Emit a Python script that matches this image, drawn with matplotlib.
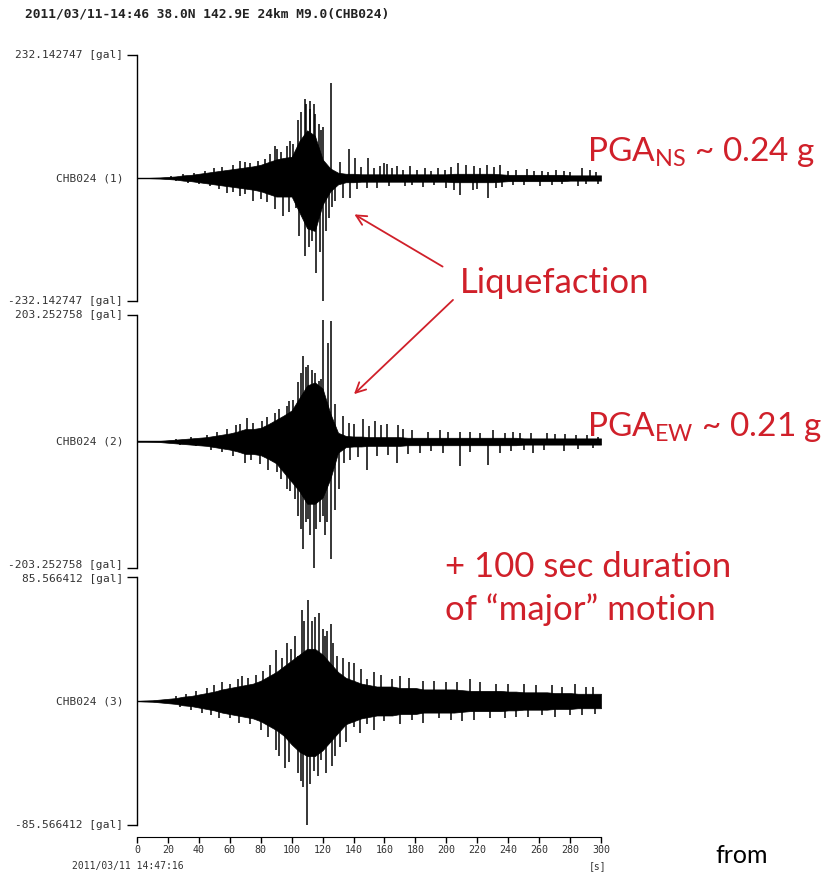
import numpy as np
import matplotlib
matplotlib.use("Agg")
import matplotlib.pyplot as plt

# --- data (acceleration in gal, time in s) ---
T_ENV = list(range(0, 301, 5))

# NS component: core envelope + individual peaks
NS_UP = [0, 0, 0.5, 1, 2, 3, 5, 6, 8, 10, 12, 14, 16, 18, 20, 22, 25, 30, 35, 38, 40,
         70, 90, 80, 35, 18, 10, 8, 8, 7, 7, 7, 7, 7, 7, 7, 7, 7, 7, 7, 7,
         8, 8, 8, 8, 8, 8, 7, 6, 6, 6, 6, 6, 6, 6, 6, 5, 5, 5, 5, 5]
NS_LO = [0, 0, -0.5, -1, -2, -3, -5, -6, -8, -10, -12, -14, -16, -18, -20, -22, -25, -30, -35, -35, -35,
         -65, -95, -100, -50, -25, -12, -8, -8, -7, -7, -7, -7, -7, -7, -7, -7, -7, -7, -7, -7,
         -8, -8, -8, -8, -8, -8, -7, -6, -6, -6, -6, -6, -6, -6, -6, -5, -5, -5, -5, -5]
NS_SPK_UP_T = [66.6, 73, 82.7, 89, 90.3, 96.7, 101, 108.6, 111.8, 114.4, 117.9, 120.2, 125.4,
               137, 141, 149.3, 160, 161.6, 168, 176.5, 194.6, 207.5, 213, 226, 234.6, 252, 271,
               287.7, 293,
               22, 30, 37, 44, 50, 55, 62, 70, 78, 86, 93, 99, 104, 106, 109, 112, 115, 119,
               131, 145, 153, 157, 165, 172, 181, 186, 190, 199, 203, 218, 222, 231, 240, 245,
               257, 262, 266, 276, 280, 297]
NS_SPK_UP = [32, 29, 36, 60, 55, 60, 64, 149, 145, 140, 102, 96, 180,
             55, 38, 38, 28, 27, 23, 22, 19, 28, 25, 25, 25, 17, 15, 19, 15,
             4, 7, 10, 13, 18, 20, 25, 30, 33, 45, 50, 70, 110, 125, 140, 130, 120, 90,
             30, 20, 18, 22, 18, 16, 15, 18, 14, 16, 20, 22, 18, 20, 14, 15,
             13, 14, 12, 13, 12, 12]
NS_SPK_DN_T = [58, 66.6, 75, 89, 94.5, 103, 108.6, 113, 116, 120, 124.3, 128, 133, 138,
               148.5, 173, 209, 217, 227, 236, 260.5, 285,
               25, 33, 40, 47, 53, 62, 70, 80, 84, 98, 105, 111, 118, 122, 126, 142, 155,
               163, 178, 185, 192, 200, 205, 220, 232, 243, 250, 268, 275, 290, 298]
NS_SPK_DN = [-28, -34, -43, -59, -72, -56, -147, -119, -179, -232, -75, -43, -37, -37,
             -19, -15, -32, -23, -38, -17, -15, -15,
             -5, -9, -12, -16, -20, -27, -30, -40, -45, -65, -110, -130, -140, -100, -55, -20, -18,
             -16, -14, -17, -14, -18, -22, -20, -18, -14, -13, -13, -12, -12, -11]

# EW component
EW_UP = [0, 0, 0.5, 1, 2, 3, 4, 5, 6, 7, 9, 11, 13, 16, 20, 20, 22, 28, 35, 42, 50,
         70, 90, 95, 85, 45, 14, 9, 8, 8, 7, 7, 7, 7, 7, 6, 6, 6, 6, 6, 6,
         6, 6, 6, 6, 6, 6, 6, 6, 6, 5, 5, 5, 5, 5, 5, 5, 5, 5, 5, 5]
EW_LO = [0, 0, -0.5, -1, -2, -3, -4, -5, -6, -7, -9, -11, -13, -16, -20, -20, -22, -28, -35, -50, -65,
         -80, -100, -100, -90, -60, -18, -9, -8, -8, -7, -7, -7, -7, -7, -6, -6, -6, -6, -6, -6,
         -6, -6, -6, -6, -6, -6, -6, -6, -6, -5, -5, -5, -5, -5, -5, -5, -5, -5, -5, -5]
EW_SPK_UP_T = [66.6, 71, 80.6, 89, 96.8, 101, 107.5, 110.6, 115, 117.5, 120, 123.6, 125.4,
               133, 137, 146, 154, 161.4, 168.7, 196, 209, 230, 247.6, 264.8, 284, 298,
               25, 35, 45, 52, 58, 64, 75, 84, 92, 98, 104, 106, 109, 113, 119, 128, 140,
               150, 158, 172, 178, 188, 201, 215, 222, 238, 243, 255, 270, 277, 291]
EW_SPK_UP = [28, 38, 33, 46, 57, 67, 137, 123, 110, 97, 195, 158, 193,
             41, 30, 36, 33, 28, 26, 18, 16, 18, 13, 13, 11, 8,
             4, 7, 11, 15, 20, 26, 30, 40, 52, 65, 95, 110, 120, 115, 100, 60, 28,
             25, 27, 20, 18, 16, 15, 16, 14, 14, 15, 13, 12, 12, 10]
EW_SPK_DN_T = [70, 79.5, 90.3, 96.8, 102, 107.5, 110.6, 114.6, 118, 121.5, 125.4, 130.8,
               137.7, 148.5, 167.9, 183, 209, 227, 256, 276,
               28, 38, 48, 55, 62, 74, 85, 93, 99, 104, 106, 109, 112, 116, 120, 123, 128,
               134, 143, 155, 162, 175, 190, 198, 215, 235, 242, 250, 263, 285, 295]
EW_SPK_DN = [-34, -36, -49, -76, -92, -172, -124, -203, -129, -150, -188, -76,
             -29, -46, -34, -19, -40, -37, -19, -16,
             -5, -8, -13, -17, -24, -30, -45, -60, -80, -120, -140, -130, -150, -140, -120, -130, -110,
             -35, -25, -24, -22, -20, -16, -18, -17, -18, -15, -14, -14, -12, -10]

# UD component
UD_UP = [0, 0.3, 0.5, 1, 1.5, 2, 3, 3.5, 4.5, 5.5, 6.5, 8, 9, 10, 11, 12, 14, 17, 20, 24, 28,
         32, 36, 36, 32, 26, 20, 16, 14, 12, 11, 10, 10, 10, 9, 9, 9, 8, 8, 8, 8,
         8, 7.5, 7, 7, 7, 7, 7, 6.5, 6.5, 6, 6, 6, 6, 5.5, 5.5, 5.5, 5, 5, 5, 5]
UD_LO = [0, -0.3, -0.5, -1, -1.5, -2, -3, -3.5, -4.5, -5.5, -6.5, -8, -9, -10, -11, -12, -14, -17, -20, -24, -30,
         -35, -38, -38, -34, -28, -22, -16, -14, -12, -11, -10, -10, -10, -9, -9, -9, -8, -8, -8, -8,
         -8, -7.5, -7, -7, -7, -7, -7, -6.5, -6.5, -6, -6, -6, -6, -5.5, -5.5, -5.5, -5, -5, -5, -5]
UD_SPK_UP_T = [60, 72, 81.6, 90, 99.3, 104, 107, 110.3, 113, 117.9, 121.5, 125.4, 129, 140,
               148.5, 164.6, 185, 200, 215, 232, 250, 268, 283, 295,
               25, 32, 38, 45, 50, 55, 65, 68, 77, 86, 94, 97, 102, 108, 115, 120, 123, 127,
               133, 137, 145, 153, 158, 170, 176, 192, 207, 222, 240, 258, 275, 290]
UD_SPK_UP = [12, 16, 21, 35, 36, 31, 63, 70, 55, 61, 45, 53, 31, 26,
             15, 15, 14, 13, 15, 12, 12, 11, 12, 10,
             3.5, 5, 7, 9, 11, 13, 15, 17, 18, 25, 30, 40, 45, 55, 58, 50, 48, 40,
             30, 27, 22, 20, 18, 17, 16, 14, 13, 13, 12, 11, 10, 10]
UD_SPK_DN_T = [60, 73, 90, 95.7, 100, 107.5, 109.7, 112, 114.6, 119, 125.8, 131, 140, 148.5,
               160, 178, 195, 210, 228, 245, 262, 280, 296,
               28, 35, 42, 48, 53, 66, 80, 85, 92, 98, 104, 106, 117, 122, 128, 135, 144,
               153, 170, 185, 203, 218, 238, 253, 270, 288]
UD_SPK_DN = [-12, -16, -34, -46, -25, -59, -85.5, -57, -48, -41, -45, -32, -18, -16,
             -14, -13, -12, -14, -12, -11, -10, -10, -9,
             -4, -6, -8, -10, -12, -15, -20, -25, -38, -42, -50, -55, -52, -50, -38, -28, -22,
             -20, -16, -15, -13, -13, -12, -11, -11, -10]

LIMITS = [232.142747, 203.252758, 85.566412]
NAMES = ["CHB024 (1)", "CHB024 (2)", "CHB024 (3)"]
X_TICKS = list(range(0, 301, 20))

RED = "#d0202a"
W, H = 829, 872

plt.rcParams["mathtext.fontset"] = "custom"
plt.rcParams["mathtext.rm"] = "Lato"

fig = plt.figure(figsize=(W / 100, H / 100), dpi=100)

# panel rectangles in pixels: (top, bottom)
panel_px = [(55, 301), (315, 568), (577, 825)]
# small nudges (fraction of the limit) so neighbouring labels don't collide
label_shift = [(0.0, 0.0), (0.0, 0.02), (0.02, 0.0)]
traces = [
    (NS_UP, NS_LO, NS_SPK_UP_T, NS_SPK_UP, NS_SPK_DN_T, NS_SPK_DN),
    (EW_UP, EW_LO, EW_SPK_UP_T, EW_SPK_UP, EW_SPK_DN_T, EW_SPK_DN),
    (UD_UP, UD_LO, UD_SPK_UP_T, UD_SPK_UP, UD_SPK_DN_T, UD_SPK_DN),
]

small = dict(family="DejaVu Sans Mono", fontsize=8.0, color="#333333")
axes = []
for (top, bot), lim, name, tr, (sh_top, sh_bot) in zip(panel_px, LIMITS, NAMES, traces, label_shift):
    ax = fig.add_axes([137 / W, 1 - bot / H, 464 / W, (bot - top) / H])
    up, lo, tu, su, td, sd = tr
    ax.fill_between(T_ENV, lo, up, color="black", lw=0.5, edgecolor="black")
    ax.plot(T_ENV, np.zeros(len(T_ENV)), color="black", lw=1)
    ax.vlines(tu, 0, su, color="black", lw=1.1)
    ax.vlines(td, 0, sd, color="black", lw=1.1)
    ax.set_xlim(0, 300)
    ax.set_ylim(-lim, lim)
    for s in ["top", "right", "bottom"]:
        ax.spines[s].set_visible(False)
    ax.spines["left"].set_linewidth(1)
    ax.set_yticks([-lim, lim])
    ax.set_yticklabels([])
    ax.tick_params(axis="y", direction="out", length=7, width=1)
    tr_y = ax.get_yaxis_transform()
    ax.text(-0.03, lim * (1 - sh_top), f"{lim:.6f} [gal]", transform=tr_y,
            ha="right", va="center", **small)
    ax.text(-0.03, -lim * (1 - sh_bot), f"{-lim:.6f} [gal]", transform=tr_y,
            ha="right", va="center", **small)
    ax.text(-0.03, 0, name, transform=tr_y, ha="right", va="center", **small)
    ax.set_xticks([])
    axes.append(ax)

ax3 = axes[2]
ax3.spines["bottom"].set_visible(True)
ax3.spines["bottom"].set_position(("outward", 8.6))
ax3.set_xticks(X_TICKS)
ax3.set_xticklabels([str(v) for v in X_TICKS])
ax3.tick_params(axis="x", direction="out", length=4, width=1, pad=2,
                labelsize=7.2, labelcolor="#333333")
for lab in ax3.get_xticklabels():
    lab.set_family("DejaVu Sans Mono")

# header and footers
fig.text(25 / W, 1 - 14 / H, "2011/03/11-14:46 38.0N 142.9E 24km M9.0(CHB024)",
         ha="left", va="center", family="DejaVu Sans Mono", fontweight="bold",
         fontsize=9.3, color="#222222")
fig.text(72 / W, 1 - 871 / H, "2011/03/11 14:47:16", ha="left", va="bottom",
         family="DejaVu Sans Mono", fontsize=7.0, color="#333333")
fig.text(598 / W, 1 - 871 / H, "[s]", ha="center", va="bottom",
         family="DejaVu Sans Mono", fontsize=7.0, color="#333333")

# red annotations
big = dict(family="Lato", fontsize=25, color=RED)
pga = dict(family="Lato", fontsize=24, color=RED)
fig.text(587 / W, 1 - 152 / H, r"PGA$_\mathregular{NS}$ ~ 0.24 g", ha="left", va="center", **pga)
fig.text(587 / W, 1 - 427 / H, r"PGA$_\mathregular{EW}$ ~ 0.21 g", ha="left", va="center", **pga)
fig.text(555 / W, 1 - 283 / H, "Liquefaction", ha="center", va="center", **big)
fig.text(445 / W, 1 - 567 / H, "+ 100 sec duration", ha="left", va="center", **big)
fig.text(445 / W, 1 - 610 / H, "of \u201cmajor\u201d motion", ha="left", va="center", **big)
fig.text(742 / W, 1 - 855 / H, "from", ha="center", va="center",
         family="Lato", fontsize=18, color="black")

arrow = dict(arrowstyle="->", color=RED, lw=1.3, mutation_scale=18)
axes[0].annotate("", xy=(139, -66), xycoords="data",
                 xytext=(445 / W, 1 - 268 / H), textcoords="figure fraction",
                 arrowprops=arrow)
axes[1].annotate("", xy=(139, 73), xycoords="data",
                 xytext=(455 / W, 1 - 298 / H), textcoords="figure fraction",
                 arrowprops=arrow)

fig.savefig("out.png", dpi=100, facecolor="white")
